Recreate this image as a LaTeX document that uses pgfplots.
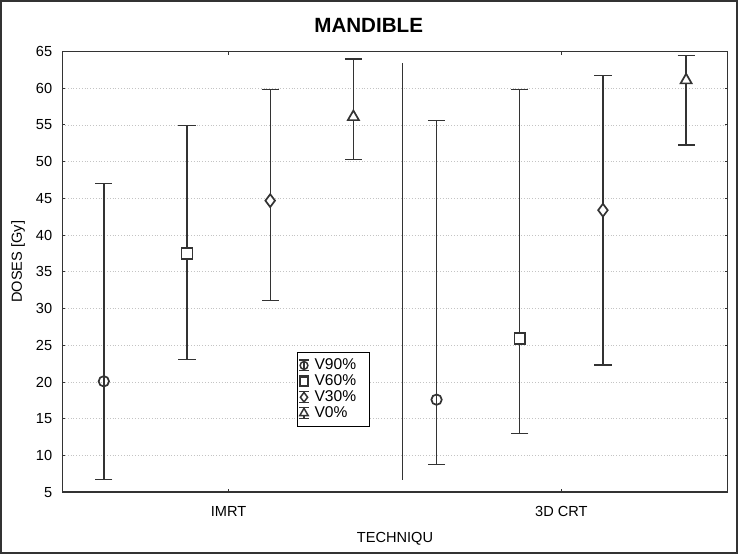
\documentclass[border=0pt]{standalone}
\usepackage{fontspec}
\setmainfont{Liberation Sans}
\usepackage{pgfplots}
\pgfplotsset{compat=1.18}

\definecolor{ink}{HTML}{333333}
\definecolor{gridc}{HTML}{C4C4C4}

\pgfplotsset{
  errplot/.style={
    only marks, ink, mark size=#1,
    mark options={solid, fill=white, draw=ink, line width=0.85pt},
    error bars/y dir=both, error bars/y explicit,
    error bars/error bar style={line width=0.7pt, ink},
    error bars/error mark options={rotate=90, mark size=4.3pt, line width=0.7pt, ink},
  },
  errlegend/.style={
    legend image code/.code={
      \draw[ink, line width=0.6pt] (0.11cm,-0.095cm) -- (0.11cm,0.095cm)
        (0.03cm,-0.095cm) -- (0.19cm,-0.095cm) (0.03cm,0.095cm) -- (0.19cm,0.095cm);
      \draw[##1, /tikz/every mark/.append style={scale=0.75, line width=0.75pt}] plot coordinates {(0.11cm,0cm)};
    }
  },
}

\begin{document}
\begin{tikzpicture}
\begin{axis}[
  scale only axis, width=333pt, height=220.5pt,
  xmin=-0.5, xmax=1.5, ymin=5, ymax=65,
  xtick={0,1}, xticklabels={IMRT,3D CRT},
  ytick={5,10,...,65},
  ymajorgrids, grid style={densely dotted, gridc, line width=0.4pt},
  tick align=inside, major tick length=1.6pt,
  axis line style={line width=0.75pt, ink},
  tick style={ink, line width=0.5pt},
  font=\fontsize{7.3}{8.8}\selectfont,
  /pgf/number format/assume math mode=true,
  ticklabel style={font=\fontsize{7.3}{8.8}\selectfont},
  yticklabel style={xshift=-1.5pt},
  xticklabel style={yshift=-3.5pt},
  xlabel={TECHNIQU},
  xlabel style={at={(axis description cs:0.5,0)}, anchor=center, yshift=-23.5pt},
  ylabel={DOSES [Gy]},
  ylabel style={at={(axis description cs:-0.0665,0.523)}, anchor=center},
  legend style={at={(0.353,0.319)}, anchor=north west, draw=black, line width=0.5pt,
    fill=white, inner xsep=0.6pt, inner ysep=2pt, row sep=-1.4pt,
    font=\fontsize{7.8}{8.5}\selectfont, nodes={inner sep=1.2pt},
    /tikz/every odd column/.append style={column sep=1.5pt}},
  legend cell align=left,
  clip=false,
]
% divider line
\addplot[ink, line width=0.7pt, forget plot] coordinates {(0.523,6.7) (0.523,63.4)};

% V90%
\addplot[errplot=2.6pt, mark=o, errlegend] coordinates {
  (-0.375,20.1) += (0,26.9) -= (0,13.4)
  (0.625,17.6) += (0,38.0) -= (0,8.8)
};
% V60%
\addplot[errplot=2.7pt, mark=square*, errlegend] coordinates {
  (-0.125,37.5) += (0,17.4) -= (0,14.4)
  (0.875,25.9) += (0,33.9) -= (0,12.9)
};
% V30%
\addplot[errplot=3.2pt, mark=diamond*, errlegend] coordinates {
  (0.125,44.7) += (0,15.1) -= (0,13.6)
  (1.125,43.4) += (0,18.3) -= (0,21.1)
};
% V0%
\addplot[errplot=3.2pt, mark=triangle*, errlegend] coordinates {
  (0.375,56.1) += (0,7.9) -= (0,5.8)
  (1.375,61.1) += (0,3.4) -= (0,8.8)
};
\legend{V90\%\hspace*{5pt},V60\%,V30\%,V0\%}

\node[font=\bfseries\fontsize{10.3}{12}\selectfont, anchor=base, yshift=9.4pt]
  at (rel axis cs:0.4605,1) {MANDIBLE};

\coordinate (SW) at (rel axis cs:0,0);
\coordinate (NE) at (rel axis cs:1,1);
\end{axis}
% outer frame
\draw[ink, line width=1pt] ([xshift=-30.65pt,yshift=-30.5pt]SW) rectangle ([xshift=4.65pt,yshift=25.3pt]NE);
\pgfresetboundingbox
\path ([xshift=-31.15pt,yshift=-31pt]SW) rectangle ([xshift=5.15pt,yshift=25.8pt]NE);
\end{tikzpicture}
\end{document}
